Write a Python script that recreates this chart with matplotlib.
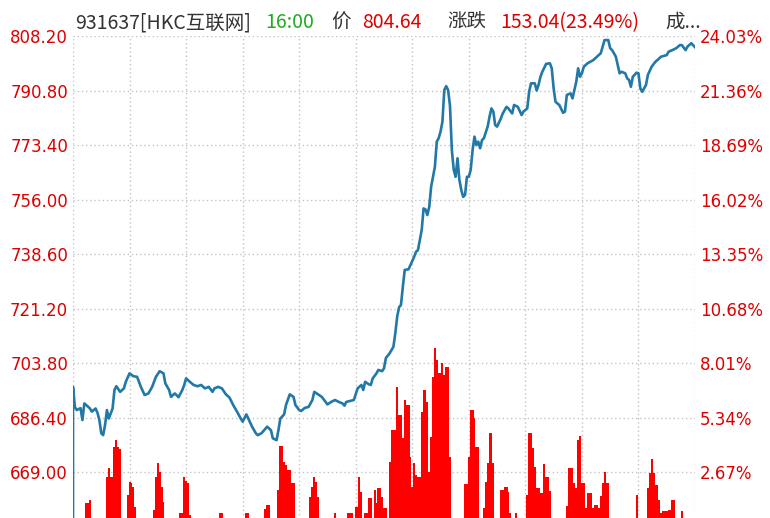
import matplotlib
matplotlib.use("Agg")
import matplotlib.pyplot as plt

# ---------------- data ----------------
prev_close = 651.60

# minutes since 9:30 (lunch break removed, 330 minutes in the day)
price_minutes = [0, 0, 1, 2, 4, 5, 6, 7, 9, 10, 12, 13, 14, 15, 16, 17, 18, 19, 21, 22,
                 23, 25, 27, 28, 30, 32, 34, 36, 38, 40, 42, 44, 46, 48, 49, 51, 52, 54, 56, 58,
                 59, 60, 62, 64, 66, 68, 70, 72, 74, 75, 77, 79, 81, 83, 85, 87, 89, 90, 92, 93,
                 95, 97, 98, 100, 103, 105, 106, 108, 109, 110, 112, 113, 115, 117, 118, 120, 121, 123, 125, 127,
                 128, 130, 132, 134, 135, 137, 139, 141, 143, 144, 145, 147, 149, 150, 151, 153, 154, 155, 157, 158,
                 159, 161, 162, 164, 165, 166, 168, 170, 171, 172, 173, 174, 175, 176, 178, 179, 181, 182, 183, 184,
                 185, 186, 187, 188, 189, 190, 191, 192, 193, 194, 195, 196, 197, 198, 199, 200, 201, 202, 203, 204,
                 205, 206, 207, 208, 209, 210, 211, 212, 213, 214, 215, 216, 217, 218, 220, 221, 222, 223, 224, 225,
                 227, 228, 230, 231, 233, 234, 236, 238, 239, 241, 242, 243, 245, 246, 247, 248, 249, 251, 253, 254,
                 255, 256, 258, 260, 261, 262, 264, 265, 266, 267, 268, 269, 270, 271, 273, 276, 278, 280, 281, 282,
                 284, 285, 286, 287, 288, 290, 291, 293, 294, 295, 296, 297, 299, 300, 301, 302, 304, 305, 307, 309,
                 310, 312, 315, 316, 318, 320, 322, 323, 325, 326, 328, 330]
prices = [651.6, 696.3, 689.9, 688.9, 689.5, 685.7, 691.0, 690.5, 689.4, 688.4, 689.4, 688.0, 685.7, 681.5, 680.9, 684.1, 688.9, 686.2, 689.4, 695.3,
          696.5, 694.7, 695.8, 697.9, 700.6, 699.7, 699.5, 696.3, 693.7, 694.2, 696.3, 699.5, 701.3, 700.6, 697.4, 695.3, 693.1, 694.2, 693.0, 695.3,
          696.9, 699.0, 697.9, 696.9, 696.5, 696.9, 695.8, 696.3, 694.7, 695.8, 696.3, 695.8, 694.0, 692.9, 690.5, 688.4, 686.2, 685.2, 687.5, 686.2,
          683.6, 681.5, 680.9, 681.5, 683.6, 682.5, 679.9, 679.3, 682.5, 686.2, 687.5, 690.5, 693.9, 693.1, 690.5, 688.9, 688.6, 689.6, 689.9, 692.1,
          694.7, 693.9, 693.1, 691.5, 690.7, 691.5, 692.1, 691.5, 691.0, 690.3, 691.5, 691.8, 692.1, 693.9, 695.8, 696.9, 695.3, 697.9, 697.1, 696.9,
          699.0, 700.6, 701.7, 701.3, 702.2, 705.5, 707.0, 709.1, 713.4, 718.7, 721.7, 722.4, 728.2, 733.6, 733.8, 735.1, 737.8, 739.4, 739.9, 743.1,
          746.3, 753.2, 752.9, 751.1, 753.7, 760.1, 763.3, 766.5, 774.5, 775.6, 777.7, 780.9, 791.0, 792.2, 791.0, 786.0, 771.8, 765.5, 763.3, 769.2,
          762.3, 759.1, 756.9, 757.5, 763.3, 763.3, 765.5, 771.8, 776.1, 773.4, 774.5, 772.4, 775.0, 775.6, 779.3, 782.5, 785.1, 784.1, 779.8, 779.3,
          781.9, 783.5, 785.6, 785.1, 783.5, 786.2, 785.6, 783.0, 784.1, 785.1, 790.4, 793.1, 793.1, 790.8, 792.6, 795.2, 796.8, 799.3, 799.5, 797.9,
          791.5, 787.2, 786.2, 783.7, 784.1, 789.4, 789.9, 788.3, 791.0, 793.6, 797.9, 795.2, 796.3, 798.4, 799.5, 800.5, 801.6, 802.7, 804.8, 806.9,
          806.9, 804.3, 803.7, 802.7, 801.6, 796.3, 796.8, 796.3, 794.7, 794.2, 792.0, 795.2, 796.5, 796.3, 791.5, 790.4, 792.6, 795.8, 798.4, 800.0,
          800.5, 801.6, 802.1, 803.2, 803.7, 804.3, 805.3, 805.3, 803.7, 804.8, 805.9, 804.64]

# per-minute volume (arbitrary units), only the bars that show in the picture
vol_minutes = [7, 8, 9,
               18, 19, 20, 21, 22, 23, 24, 25,
               29, 30, 31, 32, 33,
               43, 44, 45, 46, 47, 48,
               57, 58, 59, 60, 61, 62,
               78, 79, 92, 93, 102, 103, 104,
               109, 110, 111, 112, 113, 114, 115, 116, 117,
               126, 127, 128, 129, 130, 139,
               146, 147, 148, 150, 151, 152, 153, 155, 156, 157, 158,
               160, 161, 162, 163, 164, 165, 166,
               168, 169, 170, 171, 172, 173, 174, 175, 176, 177, 178, 179, 180, 181, 182, 183, 184,
               185, 186, 187, 188, 189, 190, 191, 192, 193, 194, 195, 196, 197, 198, 199, 200,
               208, 209, 210, 211, 212, 213, 214, 215,
               218, 219, 220, 221, 222, 223,
               227, 228, 229, 230, 231, 232, 235,
               241, 242, 243, 244, 245, 246, 247, 248, 249, 250, 251, 252, 253,
               262, 263, 264, 265, 266, 267, 268, 269, 270, 271, 272, 273, 274, 275, 276, 277, 278, 279,
               280, 281, 282, 283, 284,
               299,
               305, 306, 307, 308, 309, 310, 311, 312, 313, 314, 315, 316, 317, 318, 319, 323]
volumes = [24, 24, 27,
           50, 59, 50, 50, 80, 87, 80, 78,
           32, 45, 44, 40, 20,
           17, 50, 64, 55, 40, 25,
           14, 14, 50, 46, 44, 12,
           14, 14, 14, 14, 18, 22, 22,
           37, 81, 81, 65, 62, 57, 57, 44, 44,
           30, 40, 50, 45, 30, 14,
           14, 14, 14, 20, 20, 50, 35, 14, 14, 29, 29,
           37, 24, 39, 39, 30, 19, 19,
           65, 97, 97, 97, 140, 112, 112, 89, 127, 122, 122, 70, 40, 64, 52, 50, 50,
           115, 137, 137, 125, 55, 90, 150, 179, 167, 154, 154, 164, 152, 160, 160, 70,
           43, 43, 70, 117, 117, 109, 80, 80,
           19, 45, 64, 94, 94, 64,
           37, 37, 40, 40, 35, 14, 14,
           32, 94, 94, 79, 60, 39, 39, 34, 34, 63, 50, 50, 36,
           21, 59, 59, 59, 44, 39, 87, 91, 44, 44, 19, 34, 34, 34, 19, 22, 22, 19,
           31, 44, 55, 44, 44,
           32,
           39, 54, 68, 54, 42, 42, 27, 14, 16, 16, 16, 17, 17, 27, 27, 16]

price_ticks = [669.00, 686.40, 703.80, 721.20, 738.60, 756.00, 773.40, 790.80, 808.20]
price_labels = ["669.00", "686.40", "703.80", "721.20", "738.60", "756.00", "773.40", "790.80", "808.20"]
pct_labels = ["2.67%", "5.34%", "8.01%", "10.68%", "13.35%", "16.02%", "18.69%", "21.36%", "24.03%"]
time_grid = [0, 30, 60, 90, 120, 150, 180, 210, 240, 270, 300, 330]

title_parts = ["931637[HKC互联网]", "16:00", "价", "804.64", "涨跌", "153.04(23.49%)", "成..."]

# ---------------- style ----------------
RED = "#dd0000"
GRID = "#c4c4c4"
LINE = "#2278a6"
BAR = "#ff0000"
CJK = ["Noto Sans CJK SC", "DejaVu Sans"]

fig = plt.figure(figsize=(7.7, 5.18), dpi=100)
fig.patch.set_facecolor("white")
rect = [73 / 770, (518 - 527) / 518, 622 / 770, 491 / 518]
ax = fig.add_axes(rect)
ax.set_xlim(0, 330)
ax.set_ylim(prev_close, 808.20)
ax.set_yticks(price_ticks)
ax.set_yticklabels(price_labels)
ax.set_xticks(time_grid)
ax.tick_params(axis="x", length=0, labelbottom=False)
ax.tick_params(axis="y", length=0, pad=3.6, labelcolor=RED, labelsize=12)
for lab in ax.get_yticklabels():
    lab.set_family("DejaVu Sans")
ax.grid(True, linestyle=(0, (1, 2)), color=GRID, linewidth=1)
for s in ax.spines.values():
    s.set_visible(False)

# volume bars
ax_v = ax.twinx()
ax_v.set_ylim(0, 491)
ax_v.bar(vol_minutes, volumes, width=1.06, color=BAR, edgecolor="none",
         linewidth=0, antialiased=False)
ax_v.set_yticks([])
for s in ax_v.spines.values():
    s.set_visible(False)

# price line + percent axis
ax_r = ax.twinx()
ax_r.set_ylim(prev_close, 808.20)
ax_r.set_yticks(price_ticks)
ax_r.set_yticklabels(pct_labels)
ax_r.tick_params(axis="y", length=0, pad=3.6, labelcolor=RED, labelsize=12)
for lab in ax_r.get_yticklabels():
    lab.set_family("DejaVu Sans")
for s in ax_r.spines.values():
    s.set_visible(False)
ax_r.plot(price_minutes, prices, color=LINE, linewidth=1.9, solid_joinstyle="round")
ax_r.set_xlim(0, 330)

# title line
title_x = [75, 265, 331, 362, 447, 500, 665]
title_colors = ["#333333", "#22aa22", "#333333", RED, "#333333", RED, "#333333"]
for txt, x, c in zip(title_parts, title_x, title_colors):
    fig.text(x / 770, (518 - 28) / 518, txt, color=c, fontsize=14,
             family=CJK, va="baseline", ha="left")

fig.savefig("out.png", dpi=100, facecolor="white")
